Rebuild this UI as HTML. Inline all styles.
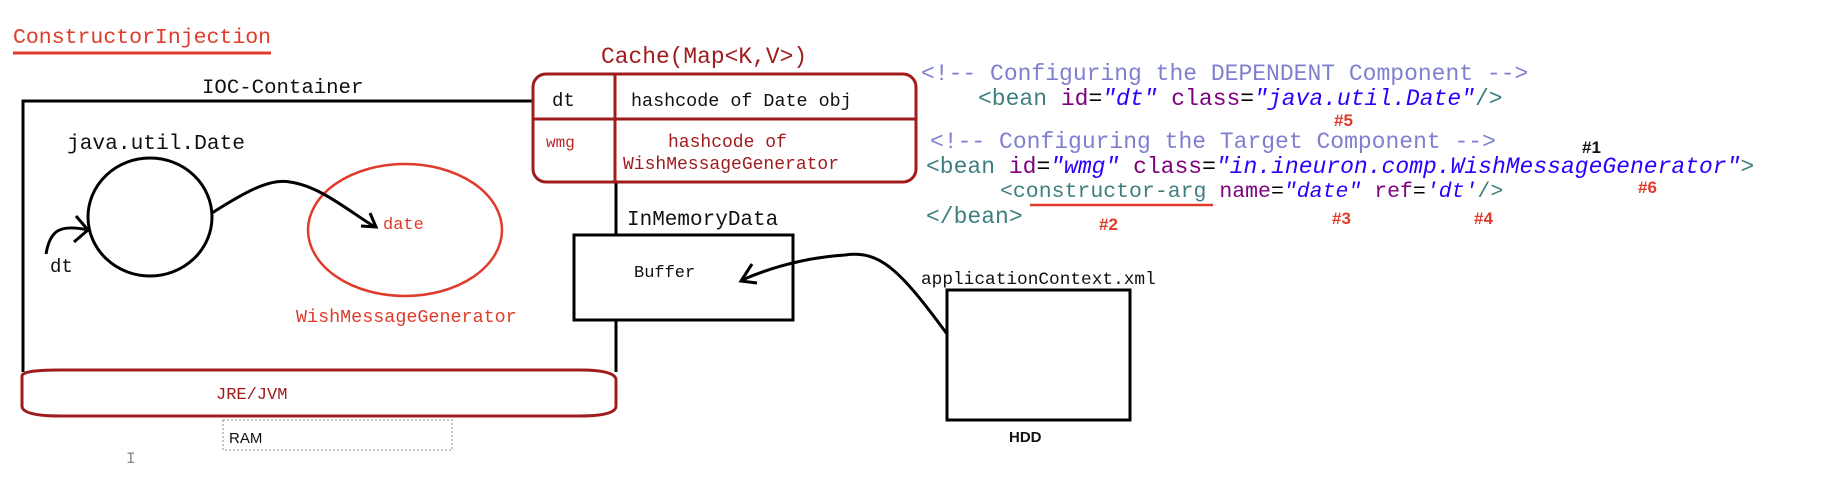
<!DOCTYPE html>
<html><head><meta charset="utf-8"><style>
html,body{margin:0;padding:0;background:#fff;}
svg{display:block;}
text{font-family:"Liberation Mono",monospace;}
.s{font-family:"Liberation Sans",sans-serif;}
</style></head><body>
<svg width="1835" height="484" viewBox="0 0 1835 484" xmlns="http://www.w3.org/2000/svg">
<!-- title -->
<text x="13" y="43" font-size="21.5" fill="#e03a2a">ConstructorInjection</text>
<line x1="13" y1="53" x2="271" y2="53" stroke="#e03a2a" stroke-width="3"/>

<!-- IOC container -->
<text x="202" y="93" font-size="20.7" fill="#111">IOC-Container</text>
<path d="M533 101 H23 V372" fill="none" stroke="#000" stroke-width="3"/>
<path d="M616 182 V235 M616 320 V372" fill="none" stroke="#000" stroke-width="3"/>

<!-- cache -->
<text x="601" y="63" font-size="22.9" fill="#a01c1c">Cache(Map&lt;K,V&gt;)</text>
<rect x="533" y="74" width="383" height="108" rx="13" fill="none" stroke="#a01c1c" stroke-width="3"/>
<line x1="615" y1="74" x2="615" y2="182" stroke="#a01c1c" stroke-width="3"/>
<line x1="533" y1="119" x2="916" y2="119" stroke="#a01c1c" stroke-width="3"/>
<text x="552" y="106" font-size="19" fill="#111">dt</text>
<text x="631" y="106" font-size="18.4" fill="#111">hashcode of Date obj</text>
<text x="546" y="147" font-size="16" fill="#c0282a">wmg</text>
<text x="668" y="147" font-size="18" fill="#a01c1c">hashcode of</text>
<text x="623" y="169" font-size="18" fill="#a01c1c">WishMessageGenerator</text>

<!-- java.util.Date -->
<text x="67" y="149" font-size="21.2" fill="#111">java.util.Date</text>
<ellipse cx="150" cy="217" rx="62" ry="59" fill="none" stroke="#000" stroke-width="3"/>
<path d="M46 254 C50 230 60 224 88 230" fill="none" stroke="#000" stroke-width="3"/>
<path d="M76 216 L88 230 L74 242" fill="none" stroke="#000" stroke-width="3"/>
<text x="50" y="272" font-size="19" fill="#111">dt</text>

<!-- WishMessageGenerator -->
<ellipse cx="405" cy="230" rx="97" ry="66" fill="none" stroke="#e03a2a" stroke-width="2.5"/>
<path d="M212 213 C245 192 270 178 290 182 C320 186 350 212 375 227" fill="none" stroke="#000" stroke-width="3"/>
<path d="M361 226 L376 227 L370 213" fill="none" stroke="#000" stroke-width="3"/>
<text x="383" y="229" font-size="17" fill="#e03a2a">date</text>
<text x="296" y="322" font-size="18.4" fill="#e03a2a">WishMessageGenerator</text>

<!-- InMemoryData / buffer -->
<text x="627" y="225" font-size="21" fill="#111">InMemoryData</text>
<rect x="574" y="235" width="219" height="85" fill="none" stroke="#000" stroke-width="3"/>
<text x="634" y="277" font-size="17" fill="#111">Buffer</text>
<path d="M947 334 C900 270 880 250 845 255 C800 258 765 270 742 280" fill="none" stroke="#000" stroke-width="3"/>
<path d="M752 264 L741 281 L757 283" fill="none" stroke="#000" stroke-width="3"/>

<!-- JRE/JVM -->
<path d="M22 376 Q22 370 60 370 L580 370 Q616 370 616 380 L616 406 Q616 416 580 416 L60 416 Q22 416 22 406 Z" fill="none" stroke="#a01c1c" stroke-width="3"/>
<text x="216" y="399" font-size="17" fill="#a01c1c">JRE/JVM</text>

<!-- RAM -->
<rect x="223" y="420" width="229" height="30" fill="none" stroke="#888" stroke-width="1" stroke-dasharray="2,2"/>
<text x="229" y="443" font-size="15" fill="#111" class="s">RAM</text>
<text x="126" y="463" font-size="16" fill="#888">I</text>

<!-- XML -->
<g font-size="23">
<text x="921" y="80" fill="#7f7fd0">&lt;!-- Configuring the DEPENDENT Component --&gt;</text>
<text x="978" y="105"><tspan fill="#3f7f7f">&lt;bean</tspan> <tspan fill="#7f007f">id</tspan><tspan fill="#000">=</tspan><tspan fill="#2a00ff" font-style="italic">"dt"</tspan> <tspan fill="#7f007f">class</tspan><tspan fill="#000">=</tspan><tspan fill="#2a00ff" font-style="italic">"java.util.Date"</tspan><tspan fill="#3f7f7f">/&gt;</tspan></text>
<text x="930" y="148" fill="#7f7fd0">&lt;!-- Configuring the Target Component --&gt;</text>
<text x="926" y="173"><tspan fill="#3f7f7f">&lt;bean</tspan> <tspan fill="#7f007f">id</tspan><tspan fill="#000">=</tspan><tspan fill="#2a00ff" font-style="italic">"wmg"</tspan> <tspan fill="#7f007f">class</tspan><tspan fill="#000">=</tspan><tspan fill="#2a00ff" font-style="italic">"in.ineuron.comp.WishMessageGenerator"</tspan><tspan fill="#3f7f7f">&gt;</tspan></text>
<text x="1000" y="197" font-size="21.5"><tspan fill="#3f7f7f">&lt;constructor-arg</tspan> <tspan fill="#7f007f">name</tspan><tspan fill="#000">=</tspan><tspan fill="#2a00ff" font-style="italic">"date"</tspan> <tspan fill="#7f007f">ref</tspan><tspan fill="#000">=</tspan><tspan fill="#2a00ff" font-style="italic">'dt'</tspan><tspan fill="#3f7f7f">/&gt;</tspan></text>
<text x="926" y="223" fill="#3f7f7f">&lt;/bean&gt;</text>
</g>
<line x1="1030" y1="205" x2="1213" y2="205" stroke="#e03a2a" stroke-width="2.5"/>
<g font-size="17" font-weight="bold" fill="#e03a2a">
<text x="1334" y="126" class="s">#5</text>
<text x="1638" y="193" class="s">#6</text>
<text x="1099" y="230" class="s">#2</text>
<text x="1332" y="224" class="s">#3</text>
<text x="1474" y="224" class="s">#4</text>
<text x="1582" y="153" class="s" fill="#111">#1</text>
</g>

<!-- HDD -->
<text x="921" y="284" font-size="17.8" fill="#111">applicationContext.xml</text>
<rect x="947" y="290" width="183" height="130" fill="none" stroke="#000" stroke-width="3"/>
<text x="1009" y="442" font-size="15" fill="#111" class="s" font-weight="bold">HDD</text>
</svg>
</body></html>
